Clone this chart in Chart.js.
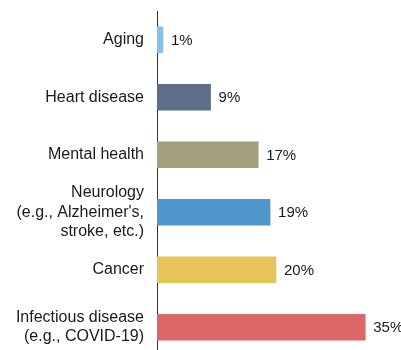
<!DOCTYPE html>
<html>
<head>
<meta charset="utf-8">
<script src="https://cdn.jsdelivr.net/npm/chart.js@4"></script>
<style>
  html, body { margin: 0; padding: 0; background: #fff; overflow: hidden; }
  #wrap { width: 401px; height: 350px; overflow: hidden; }
</style>
</head>
<body>
<div id="wrap"><canvas id="chart" width="401" height="360"></canvas></div>
<script>
const categories = [
  "Aging",
  "Heart disease",
  "Mental health",
  ["Neurology", "(e.g., Alzheimer's,", "stroke, etc.)"],
  "Cancer",
  ["Infectious disease", "(e.g., COVID-19)"],
];
const shares = [1, 9, 17, 19, 20, 35];
const barColors = ["#87c1e7", "#5e6e8a", "#a39e7b", "#4f96cd", "#e7c45a", "#db6868"];

const valueLabels = {
  id: "valueLabels",
  afterDatasetsDraw(chart) {
    const { ctx } = chart;
    const meta = chart.getDatasetMeta(0);
    ctx.save();
    ctx.font = "15px 'Liberation Sans', Arial, sans-serif";
    ctx.fillStyle = "#1a1a1a";
    ctx.textBaseline = "middle";
    ctx.textAlign = "left";
    meta.data.forEach((bar, i) => {
      ctx.fillText(shares[i] + "%", bar.x + 8, bar.y + 1);
    });
    ctx.restore();
  },
};

new Chart(document.getElementById("chart").getContext("2d"), {
  type: "bar",
  data: {
    labels: categories,
    datasets: [
      {
        data: shares,
        backgroundColor: barColors,
        barThickness: 26,
      },
    ],
  },
  options: {
    indexAxis: "y",
    responsive: false,
    animation: false,
    layout: {
      padding: { top: 11, right: 6, bottom: 4, left: 0 },
    },
    plugins: {
      legend: { display: false },
      tooltip: { enabled: false },
    },
    scales: {
      x: {
        display: false,
        min: 0,
        max: 40,
      },
      y: {
        afterFit(scale) {
          scale.width = 157;
          scale.paddingTop = 0;
          scale.paddingBottom = 0;
        },
        grid: { display: false, drawTicks: false },
        border: { color: "#333", width: 1 },
        ticks: {
          autoSkip: false,
          padding: 13,
          color: "#1a1a1a",
          font: { family: "'Liberation Sans', Arial, sans-serif", size: 16, lineHeight: 1.2 },
        },
      },
    },
  },
  plugins: [valueLabels],
});
</script>
</body>
</html>
